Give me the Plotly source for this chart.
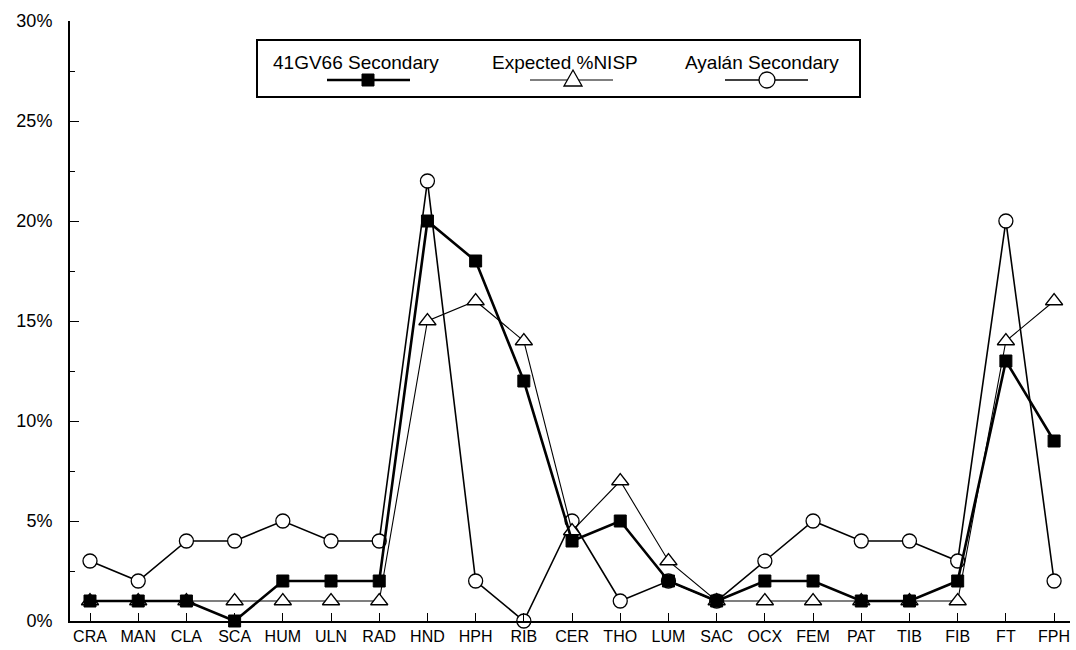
import plotly.graph_objects as go

categories = ["CRA", "MAN", "CLA", "SCA", "HUM", "ULN", "RAD", "HND", "HPH", "RIB", "CER",
              "THO", "LUM", "SAC", "OCX", "FEM", "PAT", "TIB", "FIB", "FT", "FPH"]
gv66_secondary = [1, 1, 1, 0, 2, 2, 2, 20, 18, 12, 4, 5, 2, 1, 2, 2, 1, 1, 2, 13, 9]
expected_nisp = [1, 1, 1, 1, 1, 1, 1, 15, 16, 14, 4.5, 7, 3, 1, 1, 1, 1, 1, 1, 14, 16]
ayalan_secondary = [3, 2, 4, 4, 5, 4, 4, 22, 2, 0, 5, 1, 2, 1, 3, 5, 4, 4, 3, 20, 2]
series_names = ["41GV66 Secondary", "Expected %NISP", "Ayalán Secondary"]

font_family = "Arial, Liberation Sans, sans-serif"

# plot area in page pixels (for the hand-drawn legend box)
L, R, T, B = 70, 1070, 21, 621
W, H = 1076, 650


def px(x):
    return (x - L) / (R - L)


def py(y):
    return (B - y) / (B - T)


fig = go.Figure()

fig.add_trace(go.Scatter(
    x=categories, y=ayalan_secondary, name=series_names[2], mode="lines+markers",
    line=dict(color="black", width=1.6),
    marker=dict(symbol="circle", size=14, color="white", line=dict(color="black", width=1.3)),
    cliponaxis=False, showlegend=False,
))
fig.add_trace(go.Scatter(
    x=categories, y=expected_nisp, name=series_names[1], mode="lines+markers",
    line=dict(color="black", width=1.1),
    marker=dict(symbol="triangle-up", size=15, color="white", line=dict(color="black", width=1.3)),
    cliponaxis=False, showlegend=False,
))
fig.add_trace(go.Scatter(
    x=categories, y=gv66_secondary, name=series_names[0], mode="lines+markers",
    line=dict(color="black", width=2.6),
    marker=dict(symbol="square", size=12, color="black", line=dict(color="black", width=1)),
    cliponaxis=False, showlegend=False,
))

# legend (text above, sample below, inside a framed box)
shapes = [
    dict(type="rect", xref="paper", yref="paper", x0=px(257), x1=px(860), y0=py(97), y1=py(40),
         line=dict(color="black", width=2), fillcolor="white", layer="above"),
    # 41GV66 sample
    dict(type="line", xref="paper", yref="paper", x0=px(327), x1=px(410), y0=py(80), y1=py(80),
         line=dict(color="black", width=2.4), layer="above"),
    dict(type="rect", xref="paper", yref="paper", x0=px(362), x1=px(374), y0=py(86), y1=py(74),
         line=dict(color="black", width=1), fillcolor="black", layer="above"),
    # Expected sample
    dict(type="line", xref="paper", yref="paper", x0=px(530), x1=px(613), y0=py(80), y1=py(80),
         line=dict(color="black", width=1.1), layer="above"),
    dict(type="path", xref="paper", yref="paper",
         path=f"M {px(564)} {py(86)} L {px(582)} {py(86)} L {px(573)} {py(70)} Z",
         line=dict(color="black", width=1.3), fillcolor="white", layer="above"),
    # Ayalan sample
    dict(type="line", xref="paper", yref="paper", x0=px(725), x1=px(808), y0=py(80), y1=py(80),
         line=dict(color="black", width=1.6), layer="above"),
    dict(type="circle", xref="paper", yref="paper", x0=px(759), x1=px(775), y0=py(88), y1=py(72),
         line=dict(color="black", width=1.3), fillcolor="white", layer="above"),
]
annotations = []
for name, x0 in zip(series_names, [271, 490, 683]):
    annotations.append(dict(
        text=name, xref="paper", yref="paper", x=px(x0), y=py(62), xanchor="left", yanchor="middle",
        showarrow=False, font=dict(size=19, family=font_family, color="black"),
    ))

fig.update_layout(
    width=W, height=H,
    margin=dict(l=L, r=W - R, t=T, b=H - B),
    paper_bgcolor="white", plot_bgcolor="white",
    font=dict(family=font_family, color="black"),
    showlegend=False,
    shapes=shapes,
    annotations=annotations,
    xaxis=dict(
        type="category", range=[-0.415, 20.33],
        showline=True, linecolor="black", linewidth=2,
        ticks="inside", ticklen=8, tickcolor="black", tickwidth=1,
        showgrid=False, zeroline=False,
        tickfont=dict(size=16, family=font_family, color="black"),
    ),
    yaxis=dict(
        range=[0, 30], tickvals=[0, 5, 10, 15, 20, 25, 30],
        ticktext=["0%", "5%", "10%", "15%", "20%", "25%", "30%"],
        showline=True, linecolor="black", linewidth=2,
        ticks="inside", ticklen=9, tickcolor="black", tickwidth=1,
        minor=dict(tickvals=[2.5, 7.5, 12.5, 17.5, 22.5, 27.5], ticks="inside", ticklen=5,
                   tickcolor="black", tickwidth=1),
        showgrid=False, zeroline=False,
        tickfont=dict(size=18, family=font_family, color="black"),
        ticklabelstandoff=12,
    ),
)

fig.write_html("out.html")
